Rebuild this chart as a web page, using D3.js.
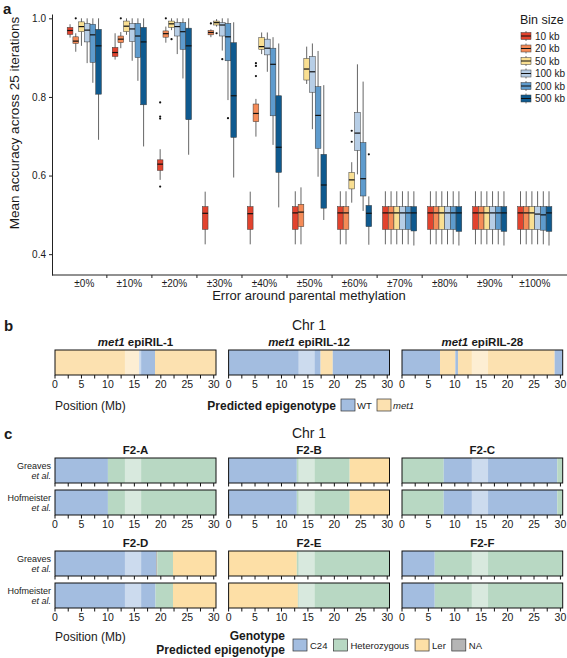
<!DOCTYPE html>
<html><head><meta charset="utf-8">
<script src="https://cdn.jsdelivr.net/npm/d3@7"></script>
<style>
body{margin:0;background:#fff}
svg text{font-family:"Liberation Sans",Arial,Helvetica,sans-serif;fill:#1a1a1a}
</style></head>
<body><svg id="fig" width="567" height="658"></svg>
<script>
// ---------- Panel a data ----------
const categories = ["±0%","±10%","±20%","±30%","±40%","±50%","±60%","±70%","±80%","±90%","±100%"];
const binSizes = ["10 kb","20 kb","50 kb","100 kb","200 kb","500 kb"];
const binColors = ["#E2432E","#F58B57","#F9DF92","#B7CEE6","#5E9BCD","#0F5A8F"];
// each row: [lower whisker, Q1, median, Q3, upper whisker] per error category
const stats10kb = [
  [0.951,0.959,0.969,0.977,0.985],[0.895,0.903,0.913,0.926,0.962],[0.589,0.613,0.629,0.640,0.667],
  [0.425,0.463,0.504,0.521,0.559],[0.425,0.463,0.503,0.521,0.559],[0.425,0.463,0.505,0.521,0.560],
  [0.425,0.463,0.505,0.521,0.560],[0.425,0.463,0.505,0.521,0.560],[0.425,0.463,0.505,0.521,0.560],
  [0.425,0.463,0.505,0.521,0.560],[0.425,0.463,0.505,0.521,0.560]];
const stats20kb = [
  [0.915,0.936,0.942,0.953,0.962],[0.924,0.938,0.947,0.955,0.965],[0.938,0.952,0.961,0.968,0.979],
  [0.952,0.958,0.964,0.969,0.972],[0.699,0.737,0.758,0.782,0.795],[0.425,0.470,0.507,0.527,0.570],
  [0.425,0.463,0.505,0.521,0.560],[0.425,0.463,0.505,0.521,0.560],[0.425,0.463,0.505,0.521,0.560],
  [0.425,0.463,0.505,0.521,0.560],[0.425,0.463,0.505,0.521,0.560]];
const stats50kb = [
  [0.930,0.966,0.979,0.991,1.000],[0.958,0.966,0.980,0.993,1.000],[0.970,0.977,0.986,0.993,1.000],
  [0.979,0.983,0.989,0.993,0.998],[0.909,0.921,0.928,0.951,0.964],[0.833,0.843,0.871,0.898,0.928],
  [0.531,0.566,0.589,0.608,0.634],[0.425,0.463,0.505,0.521,0.560],[0.425,0.463,0.505,0.521,0.560],
  [0.425,0.463,0.505,0.521,0.560],[0.425,0.463,0.505,0.521,0.560]];
const stats100kb = [
  [0.886,0.940,0.970,0.987,1.000],[0.892,0.941,0.973,0.987,1.000],[0.909,0.955,0.979,0.989,1.000],
  [0.918,0.955,0.983,0.989,1.000],[0.864,0.907,0.924,0.947,0.964],[0.718,0.812,0.864,0.903,0.936],
  [0.603,0.664,0.708,0.761,0.883],[0.425,0.463,0.505,0.521,0.560],[0.425,0.463,0.505,0.521,0.560],
  [0.425,0.463,0.505,0.521,0.560],[0.425,0.463,0.502,0.521,0.560]];
const stats200kb = [
  [0.836,0.888,0.958,0.985,1.000],[0.841,0.900,0.955,0.987,1.000],[0.847,0.921,0.966,0.989,1.000],
  [0.792,0.892,0.953,0.987,1.000],[0.678,0.752,0.883,0.924,0.952],[0.597,0.669,0.753,0.826,0.917],
  [0.510,0.548,0.592,0.684,0.839],[0.425,0.463,0.505,0.521,0.560],[0.425,0.463,0.505,0.521,0.560],
  [0.425,0.463,0.505,0.521,0.560],[0.425,0.461,0.500,0.521,0.560]];
const stats500kb = [
  [0.691,0.807,0.930,0.972,1.000],[0.674,0.780,0.940,0.977,1.000],[0.653,0.742,0.930,0.975,1.000],
  [0.595,0.697,0.803,0.938,0.990],[0.519,0.608,0.672,0.803,0.936],[0.487,0.517,0.576,0.654,0.830],
  [0.424,0.470,0.504,0.524,0.547],[0.422,0.459,0.505,0.521,0.560],[0.422,0.458,0.505,0.521,0.560],
  [0.422,0.458,0.505,0.521,0.560],[0.422,0.458,0.505,0.521,0.560]];
// outliers: [category index, bin index, value]
const outliers = [
  [0,1,1.0],[1,1,1.0],[2,1,1.0],[2,0,0.786],[2,0,0.750],[2,0,0.745],[2,0,0.572],[2,2,0.947],
  [3,1,0.987],[3,2,0.962],[3,3,0.896],[3,4,0.746],[4,1,0.886],[4,1,0.879],[4,1,0.853],
  [6,2,0.714],[6,2,0.686],[6,5,0.654]];
const yTicks = [0.4,0.6,0.8,1.0];

// ---------- Panels b / c data ----------
const chrLength = 30.43;
const centromere = [13.2, 16.3];
const posTicks = [0,2.5,5,7.5,10,12.5,15,17.5,20,22.5,25,27.5,30];
const posLabels = [0,5,10,15,20,25,30];
const epiStateColors = {WT:"#A3BDE0", met1:"#FCE1B0"};
const genoColors = {C24:"#A3BDE0", Het:"#B8D8C3", Ler:"#FDDFA6", NA:"#B5B5B5"};
const epiRILs = ["epiRIL-1","epiRIL-12","epiRIL-28"];
const epiSegments = [
  [[0,15.9,"met1"],[15.9,18.9,"WT"],[18.9,30.43,"met1"]],
  [[0,17.4,"WT"],[17.4,19.7,"met1"],[19.7,30.43,"WT"]],
  [[0,7.2,"WT"],[7.2,10.1,"met1"],[10.1,10.6,"WT"],[10.6,28.9,"met1"],[28.9,30.43,"WT"]]];
const f2Lines = ["F2-A","F2-B","F2-C","F2-D","F2-E","F2-F"];
const greavesSegments = [
  [[0,10.0,"C24"],[10.0,30.43,"Het"]],
  [[0,12.9,"C24"],[12.9,22.9,"Het"],[22.9,30.43,"Ler"]],
  [[0,7.9,"Het"],[7.9,29.4,"C24"],[29.4,30.43,"Het"]],
  [[0,19.1,"C24"],[19.1,19.35,"NA"],[19.35,22.3,"Het"],[22.3,30.43,"Ler"]],
  [[0,12.9,"Ler"],[12.9,30.43,"Het"]],
  [[0,6.2,"C24"],[6.2,30.43,"Het"]]];
const hofmeisterSegments = [
  [[0,10.0,"C24"],[10.0,30.43,"Het"]],
  [[0,12.9,"C24"],[12.9,22.9,"Het"],[22.9,30.43,"Ler"]],
  [[0,7.9,"Het"],[7.9,29.4,"C24"],[29.4,30.43,"Het"]],
  [[0,19.0,"C24"],[19.0,22.3,"Het"],[22.3,30.43,"Ler"]],
  [[0,13.1,"Ler"],[13.1,30.43,"Het"]],
  [[0,6.2,"C24"],[6.2,30.43,"Het"]]];
const genoLegend = [["C24","C24"],["Het","Heterozygous"],["Ler","Ler"],["NA","NA"]];

// ---------- drawing ----------
const svg = d3.select("#fig");
const allStats = [stats10kb,stats20kb,stats50kb,stats100kb,stats200kb,stats500kb];

// Panel a
const gA = svg.append("g");
const x = d3.scaleBand().domain(categories).range([61.8, 557.3]);
const xi = d3.scaleBand().domain(binSizes).range([5.4, 39.6]);
const y = d3.scaleLinear().domain([0.347, 1.011]).range([275, 14]);
const bw = xi.bandwidth();

gA.append("text").attr("x",3).attr("y",14).attr("font-size",15).attr("font-weight","bold").text("a");

const yAxis = gA.append("g").attr("transform","translate(52,0)")
  .call(d3.axisLeft(y).tickValues(yTicks).tickFormat(d3.format(".1f")).tickSize(3).tickSizeOuter(0));
yAxis.select(".domain").attr("stroke","#222");
yAxis.selectAll(".tick line").attr("stroke","#222");
yAxis.selectAll(".tick text").attr("font-size",10).attr("font-family",null).attr("fill","#1a1a1a");

// x axis
gA.append("line").attr("x1",52).attr("x2",567).attr("y1",275).attr("y2",275).attr("stroke","#222");
gA.selectAll(".xt").data(categories.slice(1)).enter().append("line")
  .attr("x1",d=>x(d)).attr("x2",d=>x(d)).attr("y1",275).attr("y2",278).attr("stroke","#222");
gA.selectAll(".xl").data(categories).enter().append("text")
  .attr("x",d=>x(d)+x.bandwidth()/2).attr("y",287).attr("text-anchor","middle").attr("font-size",10).text(d=>d);
gA.append("text").attr("x",309).attr("y",300).attr("text-anchor","middle").attr("font-size",13)
  .text("Error around parental methylation");
gA.append("text").attr("transform","translate(19,123) rotate(-90)").attr("text-anchor","middle")
  .attr("font-size",13.5).text("Mean accuracy across 25 iterations");

// boxes
allStats.forEach((arr,j)=>{
  arr.forEach((s,i)=>{
    const x0 = x(categories[i]) + xi(binSizes[j]);
    const cx = x0 + bw/2;
    gA.append("line").attr("x1",cx).attr("x2",cx).attr("y1",y(s[0])).attr("y2",y(s[4]))
      .attr("stroke","#555").attr("stroke-width",0.9);
    gA.append("rect").attr("x",x0).attr("width",bw).attr("y",y(s[3])).attr("height",y(s[1])-y(s[3]))
      .attr("fill",binColors[j]).attr("stroke","#3a3a3a").attr("stroke-width",0.5);
    gA.append("line").attr("x1",x0).attr("x2",x0+bw).attr("y1",y(s[2])).attr("y2",y(s[2]))
      .attr("stroke","#111").attr("stroke-width",1.2);
  });
});
gA.selectAll(".out").data(outliers).enter().append("circle")
  .attr("cx",d=>x(categories[d[0]])+xi(binSizes[d[1]])+bw/2).attr("cy",d=>y(d[2])).attr("r",1.1).attr("fill","#111");

// legend a
const lg = gA.append("g");
lg.append("text").attr("x",520).attr("y",24).attr("font-size",12.5).text("Bin size");
binSizes.forEach((b,j)=>{
  const cy = 36 + j*12.5;
  lg.append("line").attr("x1",526).attr("x2",526).attr("y1",cy-5).attr("y2",cy+5).attr("stroke","#555").attr("stroke-width",0.8);
  lg.append("rect").attr("x",521).attr("y",cy-3.5).attr("width",10).attr("height",7)
    .attr("fill",binColors[j]).attr("stroke","#3a3a3a").attr("stroke-width",0.5);
  lg.append("line").attr("x1",521).attr("x2",531).attr("y1",cy).attr("y2",cy).attr("stroke","#111").attr("stroke-width",1);
  lg.append("text").attr("x",535).attr("y",cy+3.5).attr("font-size",10).text(b);
});

// Chromosome bar helper
const panelX = [[55,216],[228.6,389.5],[402,562.7]];
function chromBar(g, px, yTop, h, segs, colors, ticks, labels){
  const sx = d3.scaleLinear().domain([0, chrLength]).range(px);
  g.selectAll(null).data(segs).enter().append("rect")
    .attr("x",d=>sx(d[0])).attr("width",d=>sx(d[1])-sx(d[0])).attr("y",yTop).attr("height",h)
    .attr("fill",d=>colors[d[2]]);
  g.append("rect").attr("x",sx(centromere[0])).attr("width",sx(centromere[1])-sx(centromere[0]))
    .attr("y",yTop).attr("height",h).attr("fill","#fff").attr("opacity",0.45);
  g.append("rect").attr("x",px[0]).attr("y",yTop).attr("width",px[1]-px[0]).attr("height",h)
    .attr("fill","none").attr("stroke","#111").attr("stroke-width",1);
  if(ticks){
    g.selectAll(null).data(posTicks).enter().append("line")
      .attr("x1",d=>sx(d)).attr("x2",d=>sx(d)).attr("y1",yTop+h).attr("y2",yTop+h+3.5).attr("stroke","#111");
  }
  if(labels){
    g.selectAll(null).data(posLabels).enter().append("text")
      .attr("x",d=>sx(d)).attr("y",yTop+h+13).attr("text-anchor","middle").attr("font-size",10.5).text(d=>d);
  }
}

// Panel b
const gB = svg.append("g");
gB.append("text").attr("x",4).attr("y",331).attr("font-size",15).attr("font-weight","bold").text("b");
gB.append("text").attr("x",309).attr("y",330).attr("text-anchor","middle").attr("font-size",14).text("Chr 1");
epiRILs.forEach((name,k)=>{
  const t = gB.append("text").attr("x",(panelX[k][0]+panelX[k][1])/2).attr("y",346)
    .attr("text-anchor","middle").attr("font-size",11.5).attr("font-weight","bold");
  t.append("tspan").attr("font-style","italic").text("met1");
  t.append("tspan").text(" " + name);
  chromBar(gB, panelX[k], 350, 25, epiSegments[k], epiStateColors, true, true);
});
gB.append("text").attr("x",55).attr("y",410).attr("font-size",12).text("Position (Mb)");
gB.append("text").attr("x",336).attr("y",410).attr("text-anchor","end").attr("font-size",12).attr("font-weight","bold").text("Predicted epigenotype");
gB.append("rect").attr("x",341).attr("y",399).attr("width",14).attr("height",12).attr("fill",epiStateColors.WT).attr("stroke","#333").attr("stroke-width",0.7);
gB.append("text").attr("x",357).attr("y",409).attr("font-size",9.5).text("WT");
gB.append("rect").attr("x",377).attr("y",399).attr("width",14).attr("height",12).attr("fill",epiStateColors.met1).attr("stroke","#333").attr("stroke-width",0.7);
gB.append("text").attr("x",393).attr("y",409).attr("font-size",9.5).attr("font-style","italic").text("met1");

// Panel c
const gC = svg.append("g");
gC.append("text").attr("x",4).attr("y",439).attr("font-size",15).attr("font-weight","bold").text("c");
gC.append("text").attr("x",309).attr("y",438).attr("text-anchor","middle").attr("font-size",14).text("Chr 1");
const rowTop = [[458,490],[551,583]];
f2Lines.forEach((name,k)=>{
  const r = Math.floor(k/3), c = k%3;
  gC.append("text").attr("x",(panelX[c][0]+panelX[c][1])/2).attr("y",rowTop[r][0]-4)
    .attr("text-anchor","middle").attr("font-size",11.5).attr("font-weight","bold").text(name);
  chromBar(gC, panelX[c], rowTop[r][0], 25, greavesSegments[k], genoColors, true, false);
  chromBar(gC, panelX[c], rowTop[r][1], 25, hofmeisterSegments[k], genoColors, true, true);
});
[0,1].forEach(r=>{
  [["Greaves",rowTop[r][0]],["Hofmeister",rowTop[r][1]]].forEach(([lab,yt])=>{
    gC.append("text").attr("x",51).attr("y",yt+11).attr("text-anchor","end").attr("font-size",9).text(lab);
    gC.append("text").attr("x",51).attr("y",yt+21).attr("text-anchor","end").attr("font-size",9).attr("font-style","italic").text("et al.");
  });
});
gC.append("text").attr("x",55).attr("y",641).attr("font-size",12).text("Position (Mb)");
gC.append("text").attr("x",285).attr("y",640).attr("text-anchor","end").attr("font-size",12).attr("font-weight","bold").text("Genotype");
gC.append("text").attr("x",285).attr("y",654).attr("text-anchor","end").attr("font-size",12).attr("font-weight","bold").text("Predicted epigenotype");
let lx = 293;
genoLegend.forEach(([key,lab])=>{
  gC.append("rect").attr("x",lx).attr("y",639).attr("width",14).attr("height",12).attr("fill",genoColors[key]).attr("stroke","#333").attr("stroke-width",0.7);
  const t = gC.append("text").attr("x",lx+17).attr("y",649).attr("font-size",9.5).text(lab);
  lx += 17 + t.node().getComputedTextLength() + 6;
});
</script></body></html>
